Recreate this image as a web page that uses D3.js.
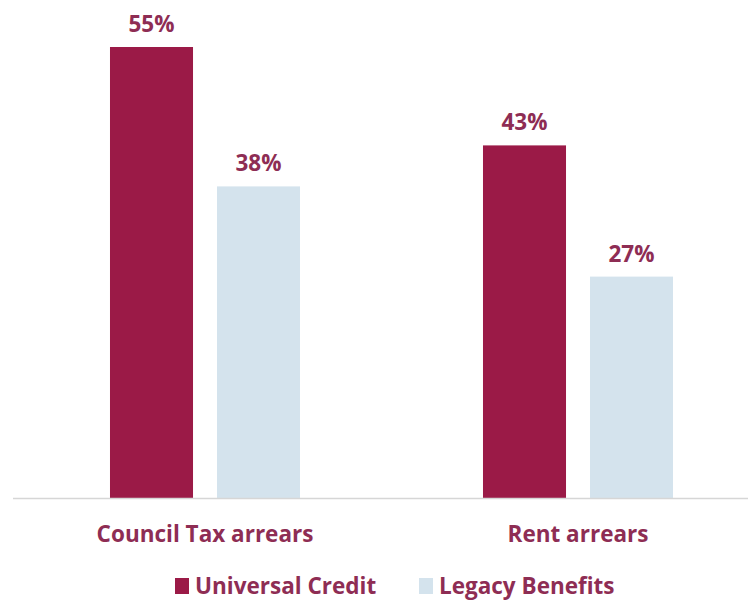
<!DOCTYPE html>
<html>
<head>
<meta charset="utf-8">
<script src="https://cdn.jsdelivr.net/npm/d3@7"></script>
<style>
  html, body { margin: 0; padding: 0; background: #ffffff; }
  svg { display: block; }
  text { font-family: "Open Sans", "Noto Sans", sans-serif; font-weight: 700; }
</style>
</head>
<body>
<svg id="chart" width="748" height="600"></svg>
<script>
// Share of respondents in arrears, by benefit type
const categories = ["Council Tax arrears", "Rent arrears"];
const series = ["Universal Credit", "Legacy Benefits"];
const universalCredit = [55, 43];
const legacyBenefits = [38, 27];

const seriesValues = [universalCredit, legacyBenefits];
const colors = { "Universal Credit": "#9b1a47", "Legacy Benefits": "#d4e3ed" };
const textColor = "#8e2d54";
const fontSize = 22.5;

const svg = d3.select("#chart");
const W = 748, H = 600;

const x0 = d3.scaleBand().domain(categories).range([18.5, 764.5]).padding(0);
const x1 = d3.scaleBand().domain(series).range([0, x0.bandwidth()])
  .paddingInner(0.224).paddingOuter(0.855);
const y = d3.scaleLinear().domain([0, 55]).range([498, 47]);

const rows = categories.map((c, i) => ({
  category: c,
  values: series.map((s, j) => ({ series: s, value: seriesValues[j][i] }))
}));

const groups = svg.append("g").selectAll("g")
  .data(rows).join("g")
  .attr("transform", d => `translate(${x0(d.category)},0)`);

groups.selectAll("rect")
  .data(d => d.values).join("rect")
  .attr("x", d => x1(d.series))
  .attr("width", x1.bandwidth())
  .attr("y", d => y(d.value))
  .attr("height", d => y(0) - y(d.value))
  .attr("fill", d => colors[d.series]);

groups.selectAll("text.val")
  .data(d => d.values).join("text")
  .attr("class", "val")
  .attr("x", d => x1(d.series) + x1.bandwidth() / 2)
  .attr("y", d => y(d.value) - 15)
  .attr("text-anchor", "middle")
  .attr("font-size", fontSize)
  .attr("fill", textColor)
  .text(d => d.value + "%");

// baseline
svg.append("line")
  .attr("x1", 13).attr("x2", W)
  .attr("y1", y(0) + 0.5).attr("y2", y(0) + 0.5)
  .attr("stroke", "#d6d6d6").attr("stroke-width", 1.5);

// category labels
const xAxis = d3.axisBottom(x0).tickSize(0).tickPadding(0);
const axisG = svg.append("g").attr("transform", `translate(0,${y(0)})`).call(xAxis);
axisG.select(".domain").remove();
axisG.selectAll("text")
  .attr("dy", null)
  .attr("y", 44)
  .attr("font-size", fontSize)
  .attr("font-family", null)
  .attr("fill", textColor);

// legend
const legendItems = [
  { name: series[0], x: 175 },
  { name: series[1], x: 419 }
];
const lg = svg.append("g").selectAll("g").data(legendItems).join("g")
  .attr("transform", d => `translate(${d.x},578)`);
lg.append("rect").attr("width", 14).attr("height", 16)
  .attr("fill", d => colors[d.name]);
lg.append("text").attr("x", 20).attr("y", 16)
  .attr("font-size", fontSize).attr("fill", textColor)
  .text(d => d.name);
</script>
</body>
</html>
